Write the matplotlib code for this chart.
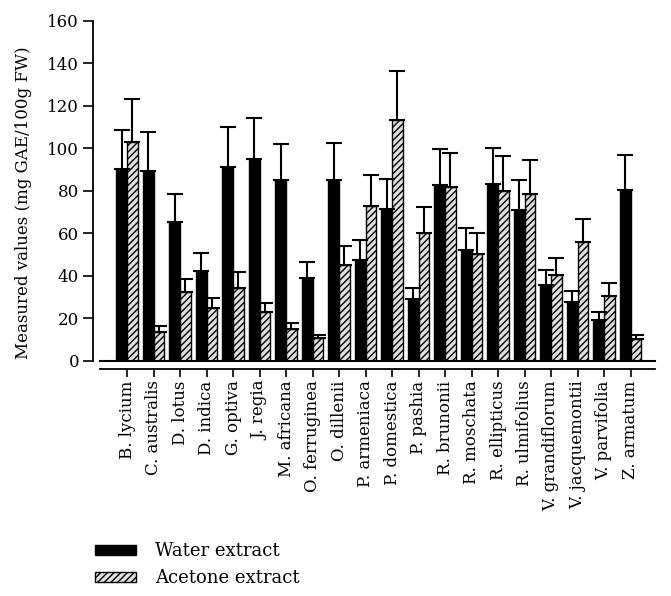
import matplotlib
matplotlib.use("Agg")
import matplotlib.pyplot as plt
import numpy as np
from matplotlib.patches import Patch

plt.rcParams['font.family'] = ['DejaVu Serif']
plt.rcParams['hatch.linewidth'] = 1.0

species = ["B. lycium", "C. australis", "D. lotus", "D. indica", "G. optiva", "J. regia",
           "M. africana", "O. ferruginea", "O. dillenii", "P. armeniaca", "P. domestica",
           "P. pashia", "R. brunonii", "R. moschata", "R. ellipticus", "R. ulmifolius",
           "V. grandiflorum", "V. jacquemontii", "V. parvifolia", "Z. armatum"]
water = [90.5, 89.6, 65.6, 42.5, 91.4, 95.2, 85.0, 38.9, 85.3, 47.4, 71.4,
         29.2, 82.7, 52.4, 83.3, 71.1, 35.8, 27.6, 19.3, 80.5]
water_err = [18.3, 18.2, 13.2, 8.5, 18.6, 19.2, 17.1, 7.7, 17.3, 9.4, 14.4,
             5.3, 16.9, 10.2, 16.9, 14.2, 7.2, 5.5, 3.6, 16.3]
acetone = [102.9, 13.8, 32.6, 24.9, 34.5, 22.9, 14.9, 10.7, 45.0, 72.9, 113.3,
           60.2, 81.7, 50.2, 80.0, 78.8, 40.5, 55.8, 30.4, 10.2]
acetone_err = [20.4, 2.5, 6.1, 4.7, 7.2, 4.2, 2.8, 1.7, 9.1, 14.6, 23.2,
               12.3, 16.3, 10.2, 16.3, 15.8, 8.0, 11.2, 6.1, 2.0]

fig = plt.figure(figsize=(6.71, 5.96), dpi=100)
ax = fig.add_axes([0.149, 0.3943, 0.827, 0.5705])

x = np.arange(len(species))
w = 0.4
ekw = dict(elinewidth=1.5, capthick=1.5, capsize=5.5, ecolor='black')
ax.bar(x - w/2, water, w, color='black', edgecolor='black', linewidth=1.0,
       yerr=[np.zeros(len(water)), water_err], error_kw=ekw, zorder=2)
ax.bar(x + w/2, acetone, w, color='#e0e0e0', edgecolor='black', linewidth=1.0,
       hatch='/////', yerr=[np.zeros(len(acetone)), acetone_err], error_kw=ekw, zorder=2)

ax.set_xlim(-1.02, 19.92)
ax.set_ylim(0, 160)
ax.axhline(0, color='black', linewidth=1.5, zorder=3, clip_on=False)

for s in ['top', 'right']:
    ax.spines[s].set_visible(False)
ax.spines['left'].set_position(('outward', 5))
ax.spines['bottom'].set_position(('outward', 6))
ax.spines['left'].set_linewidth(1.3)
ax.spines['bottom'].set_linewidth(1.3)

ax.set_yticks(np.arange(0, 161, 20))
ax.set_xticks(x)
ax.set_xticklabels(species, rotation=90, fontsize=12)
ax.tick_params(axis='y', labelsize=12, length=7, width=1.2, direction='out', pad=3)
ax.tick_params(axis='x', length=6, width=1.2, direction='out', pad=2)
ax.set_ylabel("Measured values (mg GAE/100g FW)", fontsize=12)
ax.yaxis.set_label_coords(-0.123, 0.465)

handles = [Patch(facecolor='black', edgecolor='black', label='Water extract'),
           Patch(facecolor='#e0e0e0', edgecolor='black', hatch='/////', label='Acetone extract')]
fig.legend(handles=handles, loc='upper left', bbox_to_anchor=(0.141, 0.09),
           frameon=False, fontsize=13, handlelength=2.3, handleheight=0.55,
           handletextpad=1.05, labelspacing=0.5, borderaxespad=0, borderpad=0)

fig.savefig("out.png", dpi=100)
